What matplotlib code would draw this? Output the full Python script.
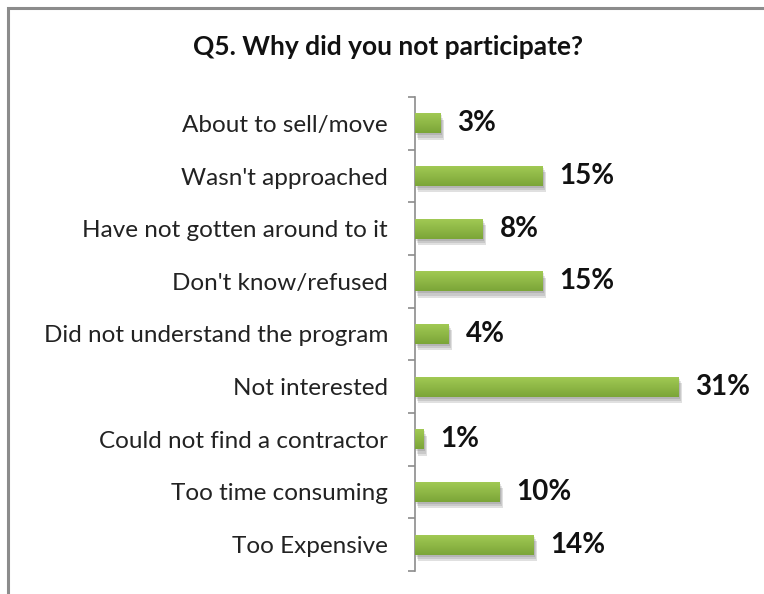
import numpy as np
import matplotlib.pyplot as plt
from matplotlib.patches import Rectangle
from matplotlib.colors import LinearSegmentedColormap

plt.rcParams['font.family'] = ['Lato', 'DejaVu Sans']

# data (top to bottom as shown)
reasons = ['About to sell/move', "Wasn't approached", 'Have not gotten around to it',
           "Don't know/refused", 'Did not understand the program', 'Not interested',
           'Could not find a contractor', 'Too time consuming', 'Too Expensive']
pct = [3, 15, 8, 15, 4, 31, 1, 10, 14]

fig = plt.figure(figsize=(7.64, 5.94), dpi=100)

# chart frame
fig.patches.append(Rectangle((8/764, -0.01), 1.0, 1 - 8/594 + 0.01, transform=fig.transFigure,
                             fill=False, edgecolor='#8c8c8c', linewidth=2.2))

ax = fig.add_axes([415/764, 1 - 571/594, 340/764, (571 - 97)/594])
y = np.arange(len(reasons))[::-1]
h = 0.38

# soft shadow
for k, a in enumerate([0.10, 0.10, 0.12]):
    d = 0.04 * (k + 1)
    ax.barh(y - d, pct, height=h, left=0.12 * (k + 1), color='#000000', alpha=a,
            linewidth=0, zorder=1)

# bars with a vertical green gradient
bars = ax.barh(y, pct, height=h, color='#8db645', zorder=2, linewidth=0)
grad = LinearSegmentedColormap.from_list('g', ['#7ba538', '#a3cb55'])
g = np.linspace(0, 1, 64).reshape(-1, 1)
for b in bars:
    x0, y0 = b.get_x(), b.get_y()
    im = ax.imshow(g, cmap=grad, origin='lower', aspect='auto', zorder=3,
                   extent=[x0, x0 + b.get_width(), y0, y0 + b.get_height()])
    im.set_clip_path(b)

for yi, v in zip(y, pct):
    ax.annotate(f'{v}%', (v, yi), xytext=(12, 0), textcoords='offset points',
                va='center', ha='left', fontsize=20, fontweight='bold', color='#111111')

ax.set_xlim(0, 40)
ax.set_ylim(-0.5, len(reasons) - 0.5)
ax.set_yticks(y)
ax.set_yticklabels(reasons, fontsize=17.5, color='#222222')
ax.set_yticks(np.arange(len(reasons) + 1) - 0.5, minor=True)
ax.tick_params(axis='y', which='major', length=0, pad=19.5)
ax.tick_params(axis='y', which='minor', length=5, color='#8c8c8c', width=1.2)
ax.set_xticks([])
for s in ['top', 'right', 'bottom']:
    ax.spines[s].set_visible(False)
ax.spines['left'].set_color('#8c8c8c')
ax.spines['left'].set_linewidth(1.2)

fig.text(388/764, 1 - 47/594, 'Q5. Why did you not participate?', ha='center', va='center',
         fontsize=19, fontweight='bold', color='#111111')

fig.savefig('out.png', dpi=100)
